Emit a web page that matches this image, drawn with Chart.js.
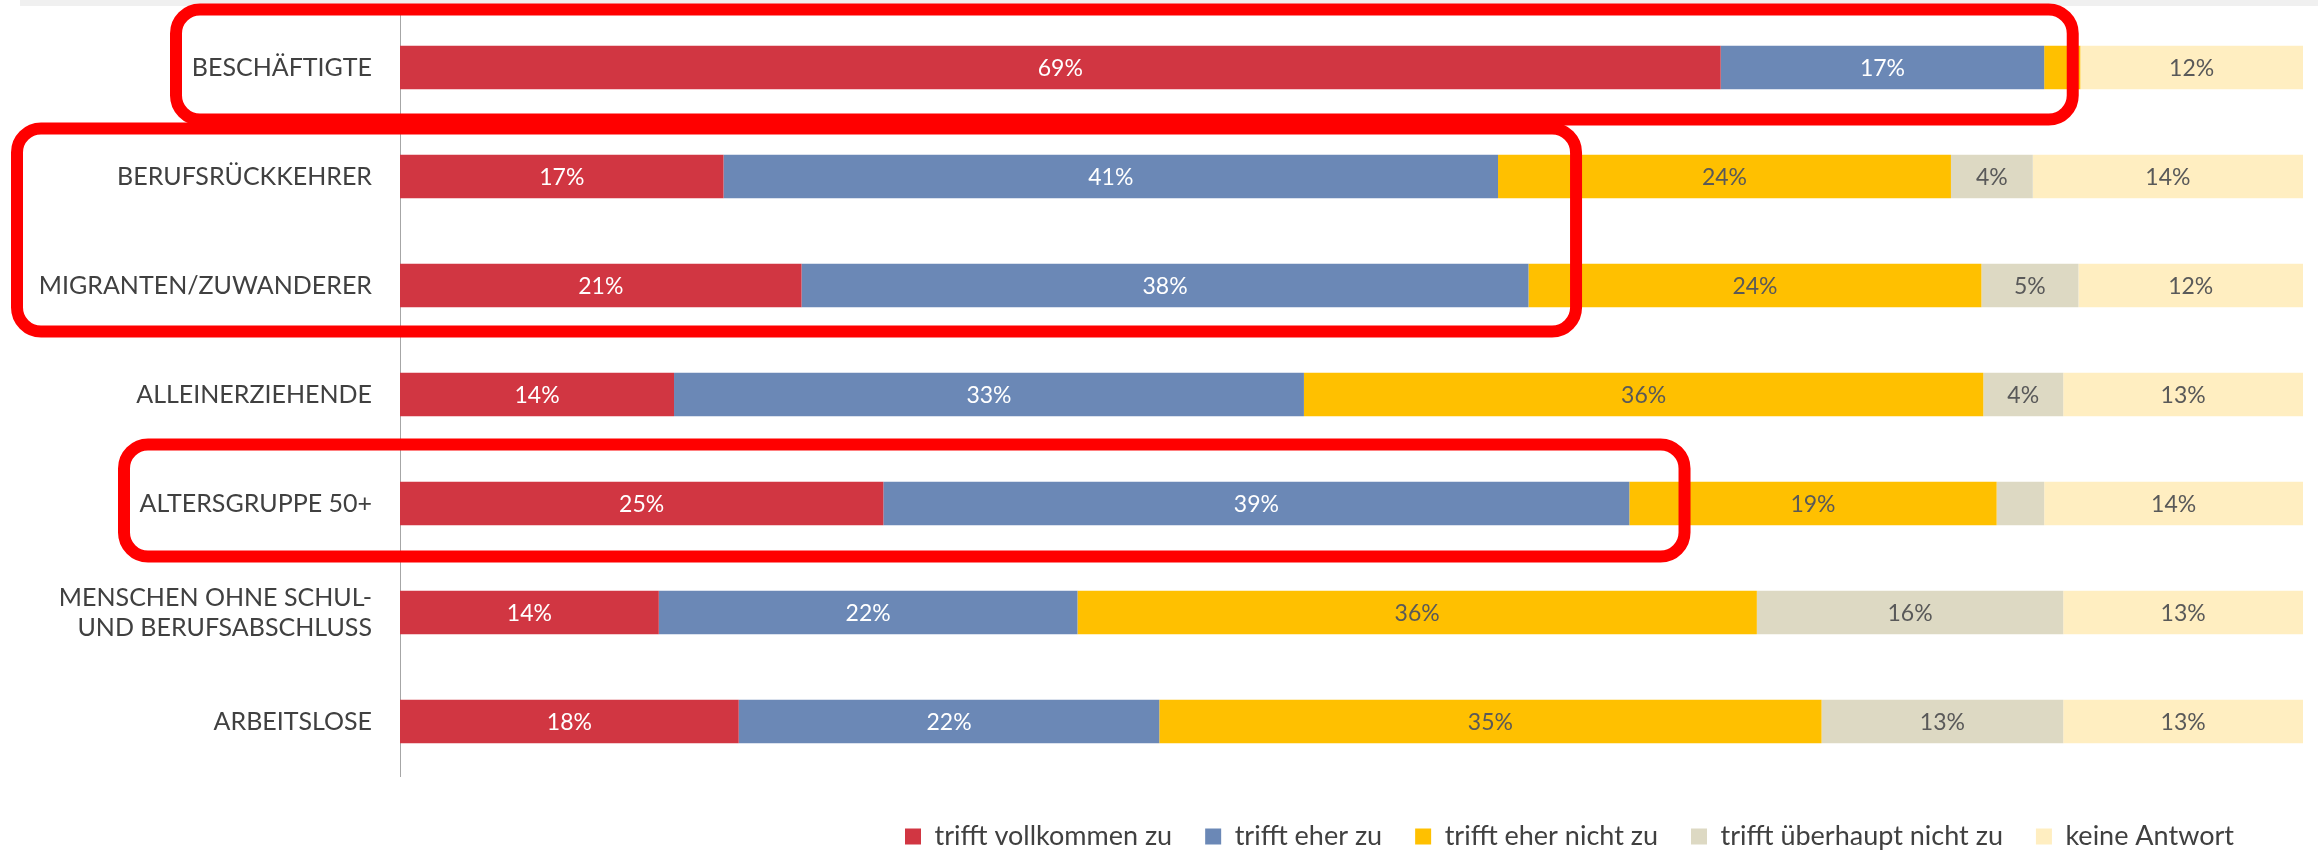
<!DOCTYPE html>
<html><head><meta charset="utf-8">
<script src="https://cdn.jsdelivr.net/npm/chart.js@4.4.1/dist/chart.umd.min.js"></script>
<style>html,body{margin:0;padding:0;background:#fff;overflow:hidden;} #wrap{width:2318px;height:851px;position:relative;}</style>
</head><body><div id="wrap"><canvas id="c" width="2318" height="851"></canvas></div>
<script>
// ---- data ----
const categories = ['BESCHÄFTIGTE', 'BERUFSRÜCKKEHRER', 'MIGRANTEN/ZUWANDERER', 'ALLEINERZIEHENDE', 'ALTERSGRUPPE 50+', ['MENSCHEN OHNE SCHUL-', 'UND BERUFSABSCHLUSS'], 'ARBEITSLOSE'];
const seriesNames = ['trifft vollkommen zu', 'trifft eher zu', 'trifft eher nicht zu', 'trifft überhaupt nicht zu', 'keine Antwort'];
const vollkommen      = [69.4, 17.0, 21.1, 14.4, 25.4, 13.6, 17.8];
const eherZu          = [17.0, 40.7, 38.2, 33.1, 39.2, 22.0, 22.1];
const eherNicht       = [1.9, 23.8, 23.8, 35.7, 19.3, 35.7, 34.8];
const ueberhauptNicht = [0, 4.3, 5.1, 4.2, 2.5, 16.1, 12.7];
const keineAntwort    = [11.7, 14.2, 11.8, 12.6, 13.6, 12.6, 12.6];
const xTicks = [0, 100];

const colors = ['#D13642', '#6B88B6', '#FFC000', '#DDD9C3', '#FFEEC1'];
const labelColors = ['#FFFFFF', '#FFFFFF', '#595959', '#595959', '#595959'];
const seriesValues = [vollkommen, eherZu, eherNicht, ueberhauptNicht, keineAntwort];

const FONT = 'Lato';
Chart.defaults.font.family = FONT;

const dataLabels = {
  id: 'dataLabels',
  afterDatasetsDraw(chart) {
    const ctx = chart.ctx;
    ctx.save();
    ctx.font = '23px ' + FONT;
    ctx.textAlign = 'center';
    ctx.textBaseline = 'middle';
    chart.data.datasets.forEach((ds, di) => {
      const meta = chart.getDatasetMeta(di);
      meta.data.forEach((bar, i) => {
        const v = ds.data[i];
        if (v < 3.5) return;
        ctx.fillStyle = labelColors[di];
        ctx.fillText(Math.round(v) + '%', (bar.x + bar.base) / 2, bar.y + 1);
      });
    });
    ctx.restore();
  }
};

function roundRect(ctx, x0, y0, x1, y1, r) {
  ctx.beginPath();
  ctx.moveTo(x0 + r, y0);
  ctx.lineTo(x1 - r, y0);
  ctx.arcTo(x1, y0, x1, y0 + r, r);
  ctx.lineTo(x1, y1 - r);
  ctx.arcTo(x1, y1, x1 - r, y1, r);
  ctx.lineTo(x0 + r, y1);
  ctx.arcTo(x0, y1, x0, y1 - r, r);
  ctx.lineTo(x0, y0 + r);
  ctx.arcTo(x0, y0, x0 + r, y0, r);
  ctx.closePath();
  ctx.stroke();
}

const decor = {
  id: 'decor',
  beforeDraw(chart) {
    const ctx = chart.ctx;
    ctx.save();
    ctx.fillStyle = '#F0F0F0';
    ctx.fillRect(20, 0, chart.width - 20, 6);
    ctx.restore();
    const lg = chart.legend;
    const pad = lg.options.labels.padding;
    lg.left = 905 - pad;
    lg.top = 837 - pad - 14;
  },
  afterDraw(chart) {
    const ctx = chart.ctx;
    const xs = chart.scales.x, ys = chart.scales.y;
    ctx.save();
    ctx.strokeStyle = '#FF0000';
    ctx.lineWidth = 12;
    roundRect(ctx, 176, ys.getPixelForValue(0) - 58, xs.getPixelForValue(87.9), ys.getPixelForValue(0) + 52, 24);
    roundRect(ctx, 17, ys.getPixelForValue(1) - 48, xs.getPixelForValue(61.8), ys.getPixelForValue(2) + 46, 24);
    roundRect(ctx, 124, ys.getPixelForValue(4) - 59, xs.getPixelForValue(67.5), ys.getPixelForValue(4) + 53, 24);
    ctx.restore();
  }
};

new Chart(document.getElementById('c'), {
  type: 'bar',
  data: {
    labels: categories,
    datasets: seriesNames.map((n, i) => ({
      label: n,
      data: seriesValues[i],
      backgroundColor: colors[i],
      borderWidth: 0,
      barPercentage: 0.4,
      categoryPercentage: 1.0
    }))
  },
  options: {
    indexAxis: 'y',
    responsive: false,
    animation: false,
    devicePixelRatio: 1,
    layout: { padding: { top: 13, right: 15, left: 0, bottom: 0 } },
    scales: {
      x: {
        stacked: true, min: xTicks[0], max: xTicks[1],
        grid: { display: false, drawTicks: false },
        border: { display: false },
        ticks: { display: false },
        afterFit(s) { const lg = s.chart.legend; s.height = Math.max(0, 851 - (lg ? lg.height : 0) - 776); s.paddingLeft = 0; s.paddingRight = 0; }
      },
      y: {
        stacked: true,
        grid: { display: false, drawTicks: false },
        border: { display: true, color: '#A6A6A6', width: 1 },
        ticks: { color: '#404040', font: { size: 25, family: FONT }, padding: 28 },
        afterFit(s) { s.width = 400; s.paddingTop = 0; s.paddingBottom = 0; }
      }
    },
    plugins: {
      legend: {
        position: 'bottom', align: 'start',
        labels: { color: '#404040', font: { size: 27, family: FONT }, boxWidth: 16, boxHeight: 16, padding: 33 }
      },
      tooltip: { enabled: false }
    }
  },
  plugins: [dataLabels, decor]
});
</script></body></html>
